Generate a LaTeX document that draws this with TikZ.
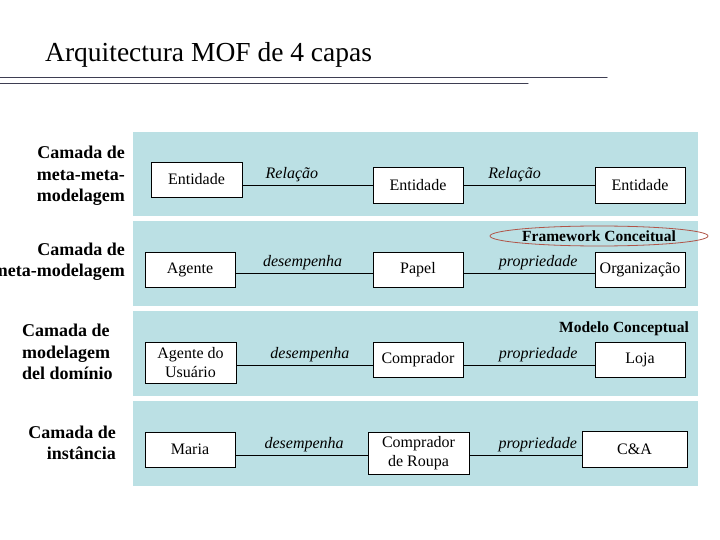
\documentclass[tikz,border=0pt]{standalone}
\usepackage{fontspec}
\setmainfont{Liberation Serif}
\usetikzlibrary{calc}

\begin{document}
\begin{tikzpicture}
	[x=1pt,y=-1pt,line cap=round,
	%Styles
	layer/.style={fill=bandcolor},
	rule/.style={draw=rulecolor,line width=1pt},
	entity/.style={draw,fill=white,line width=0.9pt,inner sep=2pt,align=center,
		minimum width=90pt,minimum height=35pt,font=\fontsize{16}{19.5}\selectfont},
	link/.style={line width=0.9pt},
	relation/.style={above,inner sep=3pt,font=\fontsize{16}{19}\selectfont\itshape},
	layer name/.style={inner sep=0pt,font=\fontsize{18}{21.5}\selectfont\bfseries},
	model name/.style={inner sep=0pt,font=\fontsize{15.5}{18}\selectfont\bfseries}
	]
	
	%Colors
	\definecolor{bandcolor}{RGB}{187,224,228}
	\definecolor{rulecolor}{RGB}{62,62,82}
	\definecolor{ringcolor}{RGB}{176,84,72}
	
	\useasboundingbox (0,0) rectangle (720,540);
	
	%Title
	\node [anchor=base west,inner sep=0pt,font=\fontsize{27.5}{33}\selectfont] (title) at (45,62) {Arquitectura MOF de 4 capas};
	\draw[rule] (0,78) -- (607,78);
	\draw[rule] (0,84) -- (528,84);
	
	%The layers
	\fill[layer] (133,132) rectangle (698,216);
	\fill[layer] (133,221) rectangle (698,306);
	\fill[layer] (133,311) rectangle (698,396);
	\fill[layer] (133,401) rectangle (698,486);
	
	\node [layer name,anchor=east,align=right] (meta2) at (125,176) {Camada de\\meta-meta-\\modelagem};
	\node [layer name,anchor=east,align=right] (meta1) at (125,261.5) {Camada de\\meta-modelagem};
	\node [layer name,anchor=west,align=left] (dom) at (22,352) {Camada de\\modelagem\\del domínio};
	\node [layer name,anchor=east,align=right] (inst) at (116,443) {Camada de\\instância};
	
	%meta-meta-modelagem
	\node [entity,minimum width=91pt] (ent1) at (196.5,179.5) {Entidade};
	\node [entity,minimum height=36pt] (ent2) at (418,185) {Entidade};
	\node [entity,minimum height=36pt] (ent3) at (640,185) {Entidade};
	\draw[link] (ent1.east |- ent2.west) -- node[relation,pos=.38] {Relação} (ent2.west);
	\draw[link] (ent2.east) -- node[relation,pos=.39] {Relação} (ent3.west);
	
	%meta-modelagem
	\node [entity] (agt) at (190,269.5) {Agente};
	\node [entity] (pap) at (418,269.5) {Papel};
	\node [entity] (org) at (640,269.5) {Organização};
	\draw[link] ([yshift=-3.5pt]agt.east) -- node[relation,pos=.49] {desempenha} ([yshift=-3.5pt]agt.east -| pap.west);
	\draw[link] ([yshift=-3.5pt]pap.east) -- node[relation,pos=.57] {propriedade} ([yshift=-3.5pt]pap.east -| org.west);
	\node [model name] (fw) at (599,236) {Framework Conceitual};
	\draw[ringcolor,line width=0.8pt] (fw.center) ellipse [x radius=109pt,y radius=10pt];
	
	%modelagem del dominio
	\node [entity,minimum width=91pt,minimum height=41pt] (usu) at (190.5,362.5) {Agente do\\Usuário};
	\node [entity] (com) at (418,359.5) {Comprador};
	\node [entity] (loj) at (640,359.5) {Loja};
	\draw[link] ([yshift=-2.5pt]usu.east) -- node[relation,pos=.54] {desempenha} ([yshift=-2.5pt]usu.east -| com.west);
	\draw[link] ([yshift=-5.5pt]com.east) -- node[relation,pos=.57] {propriedade} ([yshift=-5.5pt]com.east -| loj.west);
	\node [model name,anchor=east] (mc) at (689,329) {Modelo Conceptual};
	
	%instancia
	\node [entity] (mar) at (190,449.5) {Maria};
	\node [entity,minimum width=101pt,minimum height=42pt] (cro) at (418.5,453) {Comprador\\de Roupa};
	\node [entity,minimum width=105pt,minimum height=36pt] (cna) at (634.5,449) {C\&A};
	\draw[link] ([yshift=-5.5pt]mar.east) -- node[relation,pos=.52] {desempenha} ([yshift=-5.5pt]mar.east -| cro.west);
	\draw[link] ([yshift=-2pt]cro.east) -- node[relation,pos=.61] {propriedade} ([yshift=-2pt]cro.east -| cna.west);
\end{tikzpicture}
\end{document}
